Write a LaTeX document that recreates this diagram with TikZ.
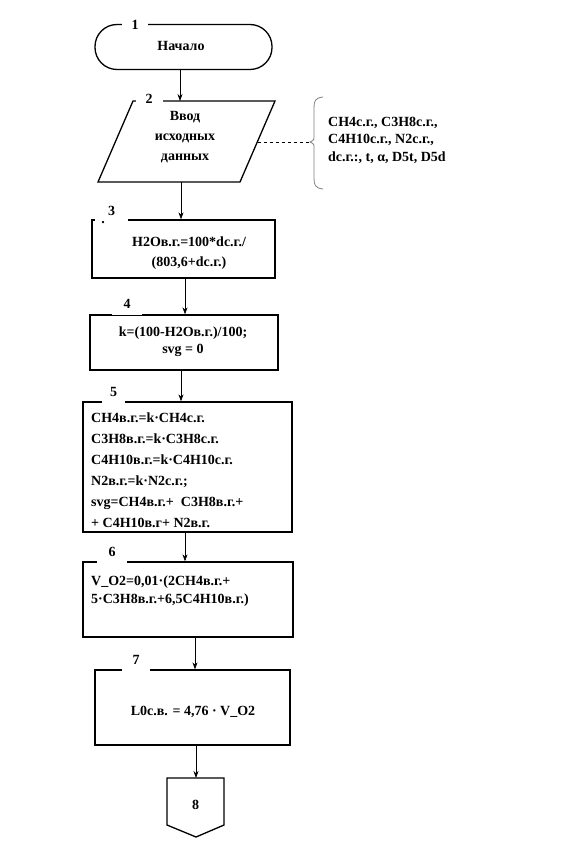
\documentclass[tikz,border=0pt]{standalone}
\usepackage{fontspec}
\setmainfont{Liberation Serif}
\usetikzlibrary{arrows.meta}
\begin{document}
\begin{tikzpicture}[x=1pt,y=-1pt,
  every node/.style={font=\fontsize{14}{20}\selectfont\bfseries},
  box/.style={draw,line width=1.3pt,minimum width=#1,inner sep=0pt},
  num/.style={fill=white,inner sep=0pt,minimum height=22pt,font=\fontsize{14}{15}\selectfont\bfseries},
  arr/.style={line width=0.7pt,-{Stealth[length=7pt,width=5pt]}},
  txt/.style={align=center,inner sep=0pt},
  ltxt/.style={align=left,inner sep=0pt,anchor=west}]
\useasboundingbox[fill=white] (0,0) rectangle (564,842);

% 1 terminator
\node[box=177pt,minimum height=45pt,rounded corners=22pt] (n1) at (183.5,47) {};
\node[txt] (t1) at (181,46) {Начало};
\node[num,minimum width=26pt] (l1) at (135,25) {1};

% 2 input parallelogram
\coordinate (p2a) at (133,101);
\coordinate (p2b) at (275,101);
\coordinate (p2c) at (240,182);
\coordinate (p2d) at (98,182);
\draw[line width=1.3pt] (p2a) -- (p2b) -- (p2c) -- (p2d) -- cycle;
\node[txt,font=\fontsize{14}{20}\selectfont\bfseries] (n2) at (185,137) {Ввод\\исходных\\данных};
\node[num,minimum width=27pt] (l2) at (149,99) {2};
\coordinate (p2top) at (180,101);
\coordinate (p2bot) at (181,182);
\coordinate (p2side) at (258,142);

% comment brace
\coordinate (br) at (310,142);
\draw[gray,line width=0.8pt] (323,97) .. controls (315,98) and (314,101) .. (314,108) -- (314,136) .. controls (314,140) .. (br) .. controls (314,144) .. (314,148) -- (314,178) .. controls (314,185) and (315,188) .. (323,189);
\draw[dashed,line width=0.7pt] (p2side) -- (br);
\node[ltxt,font=\fontsize{14}{17.5}\selectfont\bfseries] (cm) at (328,140) {CH4с.г., C3H8с.г.,\\C4H10с.г., N2с.г.,\\dс.г.:, t, α, D5t, D5d};

% 3
\node[box=183pt,minimum height=58pt] (n3) at (183.5,249) {};
\node[txt] (t3) at (189,253) {H2Oв.г.=100*dс.г./\\(803,6+dс.г.)};
\node[num,minimum width=33pt] (l3) at (111.5,211) {3};
\node[inner sep=0pt] (d3) at (103,223) {.};

% 4
\node[box=188pt,minimum height=55pt] (n4) at (184,342.5) {};
\node[txt,font=\fontsize{14}{17}\selectfont\bfseries] (t4) at (183,342) {k=(100-H2Oв.г.)/100;\\svg = 0};
\node[num,minimum width=30pt] (l4) at (127,304) {4};

% 5
\node[box=209pt,minimum height=130pt] (n5) at (187.5,467) {};
\node[ltxt,font=\fontsize{14}{21}\selectfont\bfseries] (t5) at (91,470) {CH4в.г.=k·CH4с.г.\\C3H8в.г.=k·C3H8с.г.\\C4H10в.г.=k·C4H10с.г.\\N2в.г.=k·N2с.г.;\\svg=CH4в.г.+\ \ C3H8в.г.+\\+ C4H10в.г+ N2в.г.};
\node[num,minimum width=23pt] (l5) at (113.5,392) {5};

% 6
\node[box=210pt,minimum height=75pt] (n6) at (188,599.5) {};
\node[ltxt,font=\fontsize{14}{18}\selectfont\bfseries] (t6) at (91,591) {V\_O2=0,01·(2CH4в.г.+\\5·C3H8в.г.+6,5C4H10в.г.)};
\node[num,minimum width=30pt] (l6) at (112,552) {6};

% 7
\node[box=195pt,minimum height=75pt] (n7) at (192.5,707.5) {};
\node[txt] (t7) at (193,712) {L0с.в. = 4,76 · V\_O2};
\node[num,minimum width=28pt] (l7) at (136,660) {7};

% 8 off-page connector
\coordinate (q1) at (167,778);
\coordinate (q2) at (224,778);
\coordinate (q3) at (224,825);
\coordinate (q4) at (196,837);
\coordinate (q5) at (167,825);
\draw[line width=1.3pt] (q1) -- (q2) -- (q3) -- (q4) -- (q5) -- cycle;
\node[txt] (n8) at (195.5,805) {8};

% connectors
\draw[arr] (n1.south -| p2top) -- (p2top);
\draw[arr] (p2bot) -- (n3.north -| p2bot);
\coordinate (c34) at (185,0);
\draw[arr] (n3.south -| c34) -- (n4.north -| c34);
\coordinate (c45) at (181,0);
\draw[arr] (n4.south -| c45) -- (n5.north -| c45);
\coordinate (c56) at (185,0);
\draw[arr] (n5.south -| c56) -- (n6.north -| c56);
\coordinate (c67) at (195,0);
\draw[arr] (n6.south -| c67) -- (n7.north -| c67);
\coordinate (c78) at (196,0);
\draw[arr] (n7.south -| c78) -- (q1 -| c78);
\end{tikzpicture}
\end{document}
